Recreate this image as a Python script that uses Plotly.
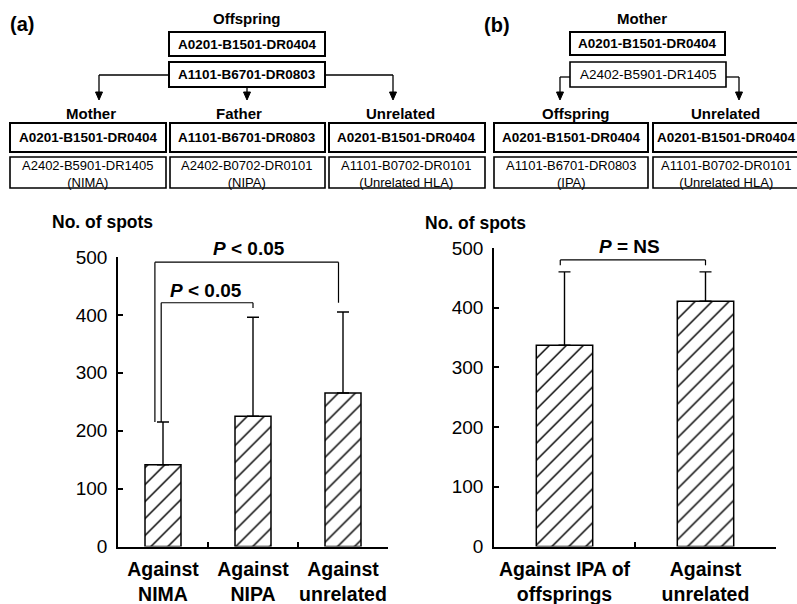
import plotly.graph_objects as go

W, H = 797, 604
FONT = "Liberation Sans, Arial, Helvetica, sans-serif"

# ---------------- data ----------------
cats_a = ["Against<br>NIMA", "Against<br>NIPA", "Against<br>unrelated"]
spots_a = [141, 225, 265]
err_a = [74, 171, 140]

cats_b = ["Against IPA of<br>offsprings", "Against<br>unrelated"]
spots_b = [337, 411]
err_b = [123, 49]

y_ticks = [0, 100, 200, 300, 400, 500]
y_label = "No. of spots"

# significance brackets: x_left, x_right, top, left_bottom, right_bottom, label, label_x, label_y
brackets_a = [
    (-0.09, 1.95, 491, 215, 421, "<i>P</i> &lt; 0.05", 0.96, 515),
    (-0.02, 1.00, 421, 215, 412, "<i>P</i> &lt; 0.05", 0.48, 443),
]
brackets_b = [
    (-0.03, 1.00, 480, 471, 471, "<i>P</i> = NS", 0.46, 502),
]

# HLA diagram texts
a_title = "Offspring"
a_top = ["A0201-B1501-DR0404", "A1101-B6701-DR0803"]
a_groups = ["Mother", "Father", "Unrelated"]
a_shared = ["A0201-B1501-DR0404", "A1101-B6701-DR0803", "A0201-B1501-DR0404"]
a_other = ["A2402-B5901-DR1405", "A2402-B0702-DR0101", "A1101-B0702-DR0101"]
a_tags = ["(NIMA)", "(NIPA)", "(Unrelated HLA)"]

b_title = "Mother"
b_top = ["A0201-B1501-DR0404", "A2402-B5901-DR1405"]
b_groups = ["Offspring", "Unrelated"]
b_shared = ["A0201-B1501-DR0404", "A0201-B1501-DR0404"]
b_other = ["A1101-B6701-DR0803", "A1101-B0702-DR0101"]
b_tags = ["(IPA)", "(Unrelated HLA)"]

# ---------------- geometry (pixels) ----------------
XDOM_A = (118, 388)
XDOM_B = (494, 776)
YDOM_A = (546.5, 257)
YDOM_B = (546.5, 248)
YMAX = 500


def px(x):
    return x / W


def py(y):
    return 1 - y / H


shapes = []
annotations = []


def rect(x0, y0, x1, y1, lw=1.6):
    shapes.append(dict(type="rect", xref="paper", yref="paper",
                       x0=px(x0), x1=px(x1), y0=py(y0), y1=py(y1),
                       line=dict(color="black", width=lw), fillcolor="rgba(0,0,0,0)"))


def seg(x0, y0, x1, y1, lw=1.3):
    shapes.append(dict(type="line", xref="paper", yref="paper",
                       x0=px(x0), x1=px(x1), y0=py(y0), y1=py(y1),
                       line=dict(color="black", width=lw)))


def arrow_tip(x, y):
    path = f"M {px(x-3.5)},{py(y-8)} L {px(x+3.5)},{py(y-8)} L {px(x)},{py(y)} Z"
    shapes.append(dict(type="path", xref="paper", yref="paper", path=path,
                       fillcolor="black", line=dict(color="black", width=1)))


def text(x, y, s, size, bold=False, anchor="center"):
    annotations.append(dict(xref="paper", yref="paper", x=px(x), y=py(y), text=s,
                            showarrow=False, xanchor=anchor, yanchor="middle",
                            font=dict(family=FONT, size=size, color="black",
                                      weight="bold" if bold else "normal")))


# ---------------- diagram (a) ----------------
text(8, 24, "(a)", 20, True, "left")
text(247, 18, a_title, 15, True)
rect(169, 32, 325, 56, 2)
text(247, 44, a_top[0], 13.5, True)
rect(169, 62, 325, 87, 2)
text(247, 74.5, a_top[1], 13.5, True)
seg(99, 75, 169, 75)
seg(99, 75, 99, 93)
arrow_tip(99, 100)
seg(325, 75, 393, 75)
seg(393, 75, 393, 93)
arrow_tip(393, 100)
seg(247, 87, 247, 93)
arrow_tip(247, 100)

a_boxes = [(10, 166), (170, 325), (329, 485)]
a_label_x = [91, 239, 400]
for i, (x0, x1) in enumerate(a_boxes):
    cx = (x0 + x1) / 2
    text(a_label_x[i], 114, a_groups[i], 15, True)
    rect(x0, 123, x1, 152, 2)
    text(cx, 137.5, a_shared[i], 13.5, True)
    rect(x0, 157, x1, 188, 1.6)
    text(cx, 174, a_other[i] + "<br>" + a_tags[i], 13)

# ---------------- diagram (b) ----------------
text(482, 25, "(b)", 20, True, "left")
text(642, 18, b_title, 15, True)
rect(570, 32, 725, 55, 2)
text(647.5, 43.5, b_top[0], 13.5, True)
rect(570, 62, 726, 87, 1.6)
text(648, 74.5, b_top[1], 13.5)
seg(560, 77, 570, 77)
seg(560, 77, 560, 93)
arrow_tip(560, 100)
seg(726, 77, 739, 77)
seg(739, 77, 739, 93)
arrow_tip(739, 100)

b_boxes = [(494, 648), (653, 807)]
b_text_x = [571, 726.5]
b_label_x = [576, 725]
for i, (x0, x1) in enumerate(b_boxes):
    cx = b_text_x[i]
    text(b_label_x[i], 114, b_groups[i], 15, True)
    rect(x0, 123, x1, 152, 2)
    text(cx, 137.5, b_shared[i], 13.5, True)
    rect(x0, 157, x1, 188, 1.6)
    text(cx, 174, b_other[i] + "<br>" + b_tags[i], 13)

# ---------------- y titles ----------------
text(50, 222, y_label, 17.5, True, "left")
text(423, 223, y_label, 17.5, True, "left")


# ---------------- bars ----------------
def bar(cats, vals, errs, xa, ya):
    return go.Bar(
        x=cats, y=vals, xaxis=xa, yaxis=ya, showlegend=False,
        marker=dict(color="white", line=dict(color="black", width=1.5),
                    pattern=dict(shape="/", size=12, solidity=0.12,
                                 fgcolor="black", bgcolor="white", fillmode="replace")),
        error_y=dict(type="data", symmetric=False, array=errs,
                     arrayminus=[0] * len(errs), color="black", thickness=1.4, width=6),
    )


fig = go.Figure()
fig.add_trace(bar(cats_a, spots_a, err_a, "x", "y"))
fig.add_trace(bar(cats_b, spots_b, err_b, "x2", "y2"))

# brackets (lines in data coords; labels converted to paper coords so they show above the range)
for xr, yr, brs, ncat, xd, yd in (("x", "y", brackets_a, len(cats_a), XDOM_A, YDOM_A),
                                  ("x2", "y2", brackets_b, len(cats_b), XDOM_B, YDOM_B)):
    for x0, x1, top, lb, rb, lab, lx, ly in brs:
        for (a0, b0, a1, b1) in ((x0, lb, x0, top), (x0, top, x1, top), (x1, top, x1, rb)):
            shapes.append(dict(type="line", xref=xr, yref=yr, x0=a0, y0=b0, x1=a1, y1=b1,
                               line=dict(color="black", width=1.2)))
        lpx = xd[0] + (lx + 0.5) / ncat * (xd[1] - xd[0])
        lpy = yd[0] + ly / YMAX * (yd[1] - yd[0])
        text(lpx, lpy, lab, 19, True)

axis_common = dict(showline=True, linecolor="black", linewidth=1.5, showgrid=False,
                   zeroline=False, ticks="inside", tickcolor="black", tickwidth=1.5,
                   ticklen=5, automargin=False)

fig.update_layout(
    width=W, height=H, margin=dict(l=0, r=0, t=0, b=0, autoexpand=False),
    paper_bgcolor="white", plot_bgcolor="white",
    bargap=0.6,
    xaxis=dict(domain=[XDOM_A[0] / W, XDOM_A[1] / W], range=[-0.5, 2.5], tickson="boundaries",
               tickangle=0,
               tickfont=dict(family=FONT, size=19.5, color="black", weight="bold"),
               ticklabelstandoff=4, anchor="y", **axis_common),
    yaxis=dict(domain=[(H - YDOM_A[0]) / H, (H - YDOM_A[1]) / H], range=[0, YMAX],
               tickvals=y_ticks, ticklabelstandoff=5,
               tickfont=dict(family=FONT, size=19, color="black"), anchor="x", **axis_common),
    xaxis2=dict(domain=[XDOM_B[0] / W, XDOM_B[1] / W], range=[-0.5, 1.5], tickson="boundaries",
                tickangle=0,
                tickfont=dict(family=FONT, size=19.5, color="black", weight="bold"),
                ticklabelstandoff=4, anchor="y2", **axis_common),
    yaxis2=dict(domain=[(H - YDOM_B[0]) / H, (H - YDOM_B[1]) / H], range=[0, YMAX],
                tickvals=y_ticks, ticklabelstandoff=5,
                tickfont=dict(family=FONT, size=19, color="black"), anchor="x2", **axis_common),
    shapes=shapes, annotations=annotations,
)

fig.write_html("out.html", config={"displayModeBar": False},
               post_script="document.body.style.margin='0px';document.body.style.padding='0px';")
